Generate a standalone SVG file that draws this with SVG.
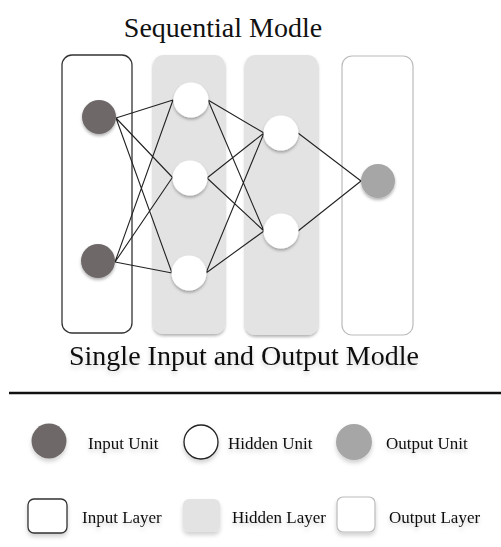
<svg xmlns="http://www.w3.org/2000/svg" width="501" height="547" viewBox="0 0 501 547">
<defs>
<filter id="sh" x="-30%" y="-30%" width="160%" height="170%">
<feDropShadow dx="0" dy="2" stdDeviation="1.6" flood-color="#000" flood-opacity="0.3"/>
</filter>
<filter id="tsh" x="-10%" y="-30%" width="120%" height="180%">
<feDropShadow dx="0" dy="3" stdDeviation="2" flood-color="#000" flood-opacity="0.18"/>
</filter>
</defs>
<style>
.title{font-family:"Liberation Serif","Times New Roman",serif;font-size:28px;fill:#111;text-anchor:middle}
.leg{font-family:"Liberation Serif","Times New Roman",serif;font-size:17px;fill:#111}
.inL{fill:#fff;stroke:#333;stroke-width:1.3}
.hidL{fill:#e3e3e3;filter:url(#sh)}
.outL{fill:#fff;stroke:#bbb;stroke-width:1.2}
.inU{fill:#6e6868;filter:url(#sh)}
.hidU{fill:#fff;filter:url(#sh)}
.outU{fill:#a6a6a6;filter:url(#sh)}
.edge{stroke:#222;stroke-width:1.1;fill:none}
</style>
<rect width="501" height="547" fill="#fff"/>
<text class="title" x="223" y="37">Sequential Modle</text>

<g id="input-layer"><rect class="inL" x="62" y="55" width="70" height="278" rx="10"/></g>
<g id="hidden-layer-1"><rect class="hidL" x="153" y="55" width="72" height="279" rx="10"/></g>
<g id="hidden-layer-2"><rect class="hidL" x="245" y="55" width="73" height="280" rx="10"/></g>
<g id="output-layer"><rect class="outL" x="342" y="56" width="71" height="279" rx="10"/></g>

<g id="connectors">
<path class="edge" d="M116 118L173 100M116 118L173 178M116 118L172 273M115 262L173 100M115 262L172 178M115 262L172 273"/>
<path class="edge" d="M208 100L264 133M208 100L264 231M207 178L264 133M207 178L264 231M206 273L264 133M206 273L264 231"/>
<path class="edge" d="M298 133L361 181M298 231L361 181"/>
</g>

<g id="in1"><circle class="inU" cx="99" cy="117" r="17"/></g>
<g id="in2"><circle class="inU" cx="98" cy="261" r="17"/></g>
<g id="h1a"><circle class="hidU" cx="191" cy="100" r="17.5"/></g>
<g id="h1b"><circle class="hidU" cx="190" cy="178" r="17.5"/></g>
<g id="h1c"><circle class="hidU" cx="189" cy="273" r="17.5"/></g>
<g id="h2a"><circle class="hidU" cx="281" cy="133" r="17.5"/></g>
<g id="h2b"><circle class="hidU" cx="281" cy="231" r="17.5"/></g>
<g id="out1"><circle class="outU" cx="378" cy="181" r="17"/></g>

<text class="title" x="244" y="365" filter="url(#tsh)">Single Input and Output Modle</text>
<line x1="9" y1="393" x2="501" y2="393" stroke="#111" stroke-width="2.5"/>

<g id="legend" filter="url(#tsh)">
<circle cx="49" cy="441" r="17.5" fill="#6e6868"/>
<text class="leg" x="88" y="449">Input Unit</text>
<circle cx="201" cy="442" r="17" fill="#fff" stroke="#222" stroke-width="1.3"/>
<text class="leg" x="228" y="449">Hidden Unit</text>
<circle cx="354" cy="442" r="18" fill="#a6a6a6"/>
<text class="leg" x="386" y="449">Output Unit</text>
<rect x="28" y="499" width="39" height="34" rx="6" fill="#fff" stroke="#333" stroke-width="1.3"/>
<text class="leg" x="82" y="523">Input Layer</text>
<rect x="183" y="499" width="37" height="33" rx="6" fill="#e3e3e3"/>
<text class="leg" x="232" y="523">Hidden Layer</text>
<rect x="337" y="497" width="38" height="35" rx="6" fill="#fff" stroke="#bbb" stroke-width="1.2"/>
<text class="leg" x="389" y="523">Output Layer</text>
</g>
</svg>
